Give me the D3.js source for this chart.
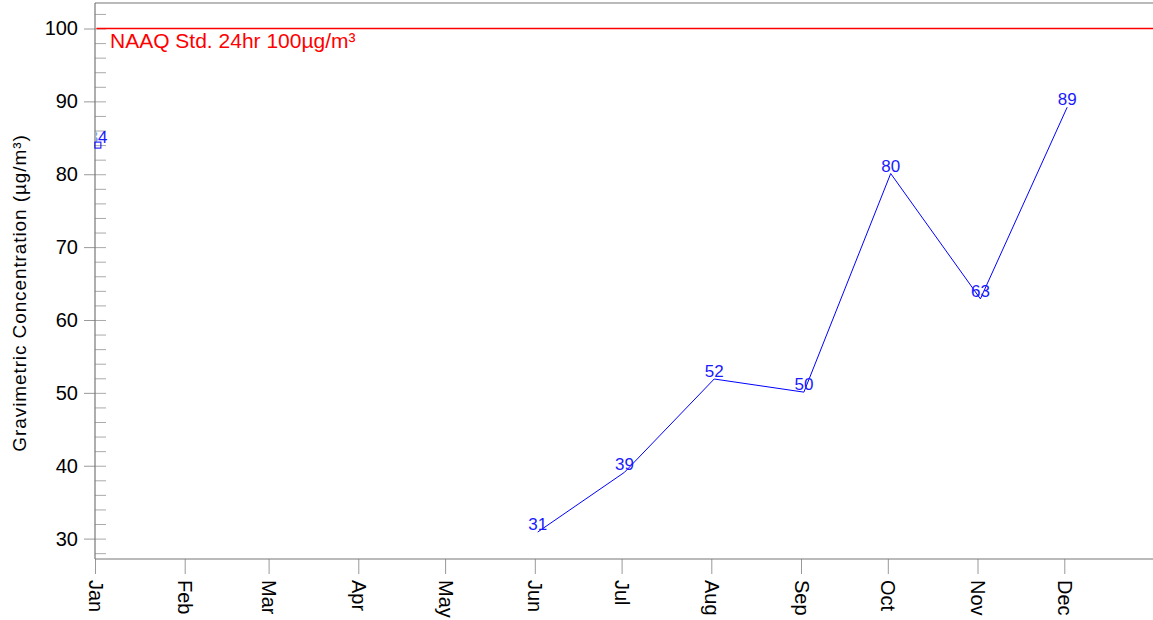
<!DOCTYPE html>
<html lang="en">
<head>
    <meta charset="UTF-8">
    <title>Gravimetric Concentration</title>
    <script src="https://cdn.jsdelivr.net/npm/d3@7"></script>
    <style>
        body { margin: 0; background: #fff; }
        svg text { font-family: "Liberation Sans", Arial, sans-serif; }
    </style>
</head>
<body>
    <svg width="1153" height="620" id="chart"></svg>
    <script>
        // monthly samples (sampled around the 2nd of each month), null = no sample
        const months = ['Jan', 'Feb', 'Mar', 'Apr', 'May', 'Jun', 'Jul', 'Aug', 'Sep', 'Oct', 'Nov', 'Dec'];
        const sampleDays = [2, 2, 2, 2, 2, 2, 2, 2, 2, 2, 2, 2];
        const concentration = [84, null, null, null, null, 30.9, 39.1, 51.9, 50.1, 80.1, 62.9, 89.2];
        const year = 2020;

        const standardValue = 100;
        const standardLabel = 'NAAQ Std. 24hr 100µg/m³';
        const yTitle = 'Gravimetric Concentration (µg/m³)';
        const yDomain = [27.2, 103.5];
        const yMajorTicks = [30, 40, 50, 60, 70, 80, 90, 100];
        const yMinorTicks = d3.range(28, 104, 2);

        const plotLeft = 95, plotTop = 3, plotRight = 1154, plotBottom = 559;

        const svg = d3.select('#chart');

        const data = months.map(function(m, i) {
            return { month: m, date: new Date(year, i, sampleDays[i]), value: concentration[i] };
        });
        const monthStarts = months.map(function(m, i) { return new Date(year, i, 1); });

        const x = d3.scaleTime()
            .domain([new Date(year, 0, 1), new Date(year + 1, 0, 1)])
            .range([plotLeft, plotRight]);
        const y = d3.scaleLinear().domain(yDomain).range([plotBottom, plotTop]);

        svg.append('clipPath').attr('id', 'plotClip')
            .append('rect')
            .attr('x', plotLeft + 1.5).attr('y', plotTop)
            .attr('width', plotRight - plotLeft).attr('height', plotBottom - plotTop);

        // y axis: major ticks outside with labels, minor ticks inside
        const yAxis = svg.append('g')
            .attr('transform', 'translate(' + plotLeft + ',0)')
            .call(d3.axisLeft(y).tickValues(yMajorTicks).tickSize(11).tickPadding(6));
        yAxis.select('.domain').remove();
        yAxis.selectAll('line').attr('stroke', '#999');
        yAxis.selectAll('text').attr('fill', '#000').style('font-size', '20px');

        const yInner = svg.append('g')
            .attr('transform', 'translate(' + plotLeft + ',0)')
            .call(d3.axisRight(y).tickValues(yMinorTicks).tickSize(11).tickFormat(''));
        yInner.select('.domain').remove();
        yInner.selectAll('line').attr('stroke', '#aaa');

        // x axis
        const xAxis = svg.append('g')
            .attr('transform', 'translate(0,' + plotBottom + ')')
            .call(d3.axisBottom(x).tickValues(monthStarts).tickSize(15)
                .tickFormat(function(d, i) { return months[i]; }));
        xAxis.select('.domain').remove();
        xAxis.selectAll('line').attr('stroke', '#999');
        xAxis.selectAll('text')
            .attr('fill', '#000')
            .style('font-size', '20px')
            .attr('text-anchor', 'start')
            .attr('y', 0)
            .attr('dy', '0.35em')
            .attr('transform', 'translate(0,21) rotate(90)');

        // frame lines
        svg.append('line')
            .attr('x1', plotLeft).attr('x2', plotLeft).attr('y1', plotTop).attr('y2', plotBottom)
            .attr('stroke', '#777').attr('stroke-width', 1.2);
        svg.append('line')
            .attr('x1', plotLeft).attr('x2', plotRight).attr('y1', plotBottom).attr('y2', plotBottom)
            .attr('stroke', '#777').attr('stroke-width', 1.2);
        svg.append('line')
            .attr('x1', plotLeft).attr('x2', plotRight).attr('y1', plotTop).attr('y2', plotTop)
            .attr('stroke', '#777').attr('stroke-width', 1.2);

        svg.append('text')
            .attr('transform', 'translate(26,293) rotate(-90)')
            .attr('text-anchor', 'middle')
            .style('font-size', '19px')
            .style('letter-spacing', '0.9px')
            .text(yTitle);

        const plot = svg.append('g').attr('clip-path', 'url(#plotClip)');

        // standard line
        plot.append('line')
            .attr('x1', plotLeft).attr('x2', plotRight)
            .attr('y1', y(standardValue)).attr('y2', y(standardValue))
            .attr('stroke', '#ff0000').attr('stroke-width', 1.3);
        plot.append('text')
            .attr('x', plotLeft + 15)
            .attr('y', y(standardValue) + 19)
            .attr('fill', '#ff0000')
            .style('font-size', '21px')
            .text(standardLabel);

        const line = d3.line()
            .defined(function(d) { return d.value !== null; })
            .x(function(d) { return x(d.date); })
            .y(function(d) { return y(d.value); });

        plot.append('path')
            .datum(data)
            .attr('fill', 'none')
            .attr('stroke', '#0000ff')
            .attr('stroke-width', 1)
            .attr('d', line);

        plot.selectAll('text.value')
            .data(data.filter(function(d) { return d.value !== null; }))
            .enter()
            .append('text')
            .attr('class', 'value')
            .attr('x', function(d) { return x(d.date); })
            .attr('y', function(d) { return y(d.value) - 2; })
            .attr('text-anchor', 'middle')
            .attr('fill', '#1a1aff')
            .style('font-size', '17px')
            .text(function(d) { return Math.round(d.value); });

        // isolated samples get a square marker
        const isolated = data.filter(function(d, i) {
            const prev = i > 0 ? data[i - 1].value : null;
            const next = i < data.length - 1 ? data[i + 1].value : null;
            return d.value !== null && prev === null && next === null;
        });
        svg.selectAll('rect.marker')
            .data(isolated)
            .enter()
            .append('rect')
            .attr('class', 'marker')
            .attr('x', function(d) { return x(d.date) - 3; })
            .attr('y', function(d) { return y(d.value) - 3; })
            .attr('width', 6).attr('height', 6)
            .attr('fill', 'none')
            .attr('stroke', '#0000ff');
    </script>
</body>
</html>
